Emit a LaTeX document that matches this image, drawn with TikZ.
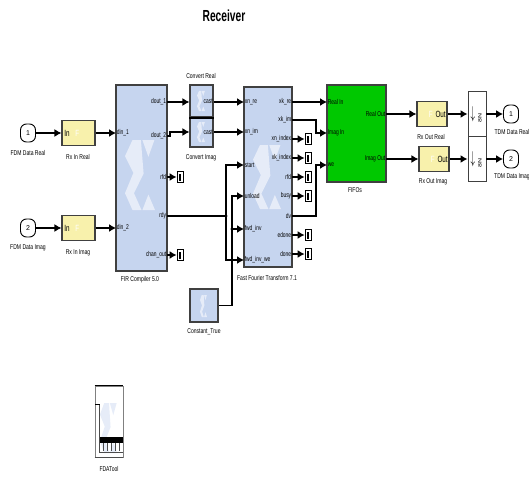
\documentclass[tikz,border=0pt]{standalone}
\usepackage{fontspec}
\setmainfont{Liberation Sans}
\usetikzlibrary{positioning}
\usetikzlibrary{arrows.meta}

\definecolor{blockblue}{HTML}{C6D5EF}
\definecolor{sigmablue}{HTML}{E6ECF8}
\definecolor{gatewayyellow}{HTML}{F8F1AC}
\definecolor{fifogreen}{HTML}{00C800}

\tikzset{
    block/.style={draw=black!75, line width=1.1pt, inner sep=0pt},
    xilinx/.style={block, fill=blockblue},
    gateway/.style={block, fill=gatewayyellow, minimum width=33pt, minimum height=25pt},
    fifobox/.style={block, fill=fifogreen},
    portnode/.style={draw=black, line width=0.9pt, rounded corners=6pt, minimum width=15pt, minimum height=18pt, inner sep=0pt, font=\fontsize{7}{8}\selectfont},
    downbox/.style={draw=black!75, line width=0.9pt, minimum width=18pt, minimum height=44.5pt, inner sep=0pt},
    termbox/.style={draw=black, line width=0.8pt, minimum width=6pt, minimum height=11pt, inner sep=0pt,
        path picture={\fill[black] (path picture bounding box.north west) ++(1.5pt,-2pt) rectangle ++(2pt,-7pt);}},
    caption/.style={font=\fontsize{7}{8}\selectfont, inner sep=0pt, xscale=0.72},
    pinlabel/.style={font=\fontsize{7}{8}\selectfont, inner sep=1pt, xscale=0.7},
    gatelabel/.style={pinlabel, font=\fontsize{9}{10}\selectfont},
    arrowsym/.style={font=\fontsize{9}{9}\selectfont, inner sep=0pt, yscale=1.9},
    sig/.style={draw=black, line width=1.3pt, -{Latex[length=7pt,width=8pt]}},
    wire/.style={draw=black, line width=1.3pt},
    xsig/.pic={
        \fill[sigmablue] (0.25,0) -- (0.53,0) -- (0.62,0.48) -- (0.3,0.76) -- (0.55,1) -- (0.25,1) -- (0,0.76) -- (0.28,0.47) -- (0,0.23) -- cycle;
        \fill[sigmablue] (0.58,0) -- (0.98,0) -- (0.78,0.24) -- cycle;
        \fill[sigmablue] (0.78,0.78) -- (1,1) -- (0.58,1) -- cycle;
    },
}

\begin{document}
\begin{tikzpicture}[x=1pt, y=-1pt]
    \useasboundingbox (0,0) rectangle (529,476);

    \node[font=\bfseries\fontsize{16}{18}\selectfont, xscale=0.64] (title) at (224,16) {Receiver};

    % input side
    \node[portnode] (fdmreal) at (28,133) {1};
    \node[portnode] (fdmimag) at (28,228) {2};
    \node[caption] (fdmrealcap) at (28,153) {FDM Data Real};
    \node[caption] (fdmimagcap) at (28,248) {FDM Data Imag};

    \node[gateway] (rxinreal) at (78.5,133) {};
    \node[gateway] (rxinimag) at (78.5,228) {};
    \node[caption] (rxinrealcap) at (78,157) {Rx In Real};
    \node[caption] (rxinimagcap) at (78,253) {Rx In Imag};
    \node[gatelabel, right=2pt of rxinreal.west] (rxinrealin) {In};
    \node[gatelabel, right=2pt of rxinimag.west] (rxinimagin) {In};
    \node[gatelabel, text=white, right=13pt of rxinreal.west] (rxinrealf) {F};
    \node[gatelabel, text=white, right=13pt of rxinimag.west] (rxinimagf) {F};

    % FIR block
    \node[xilinx, minimum width=51pt, minimum height=186pt] (fir) at (141.5,178) {};
    \pic[xscale=30, yscale=70] at (125,140) {xsig};
    \node[caption] (fircap) at (140,280) {FIR Compiler 5.0};
    \foreach \name/\txt/\y in {din1/din\_1/133, din2/din\_2/228} {
        \coordinate (\name) at (116,\y);
        \node[pinlabel, right=0pt of \name] (\name txt) {\txt};
    }
    \foreach \name/\txt/\y in {dout1/dout\_1/102, dout2/dout\_2/136, firrfd/rfd/177, firrdy/rdy/216, chanout/chan\_out/255} {
        \coordinate (\name) at (167,\y);
        \node[pinlabel, left=0pt of \name] (\name txt) {\txt};
    }

    % convert blocks
    \node[xilinx, minimum width=23pt, minimum height=32pt] (convreal) at (201.5,101) {};
    \node[xilinx, minimum width=23pt, minimum height=30pt] (convimag) at (201.5,132) {};
    \draw[black, line width=2pt] (convreal.south west) -- (convreal.south east);
    \pic[xscale=8, yscale=20] at (197,91) {xsig};
    \pic[xscale=8, yscale=20] at (197,122) {xsig};
    \node[pinlabel, left=0pt of convreal.east] (convrealtxt) {cast};
    \node[pinlabel, left=0pt of convimag.east] (convimagtxt) {cast};
    \node[caption] (convrealcap) at (201,76) {Convert Real};
    \node[caption] (convimagcap) at (201,158) {Convert Imag};

    % FFT block
    \node[xilinx, minimum width=48pt, minimum height=180pt] (fft) at (268,177) {};
    \pic[xscale=28, yscale=64] at (253,145) {xsig};
    \node[caption] (fftcap) at (267,278) {Fast Fourier Transform 7.1};
    \foreach \name/\txt/\y in {xnre/xn\_re/102, xnim/xn\_im/132, start/start/165, unload/unload/196, fwdinv/fwd\_inv/229, fwdinvwe/fwd\_inv\_we/260} {
        \coordinate (\name) at (244,\y);
        \node[pinlabel, right=0pt of \name] (\name txt) {\txt};
    }
    \foreach \name/\txt/\y in {xkre/xk\_re/102, xkim/xk\_im/120, xnindex/xn\_index/139, xkindex/xk\_index/158, fftrfd/rfd/177, busy/busy/196, dv/dv/216, edone/edone/235, done/done/254} {
        \coordinate (\name) at (292,\y);
        \node[pinlabel, left=0pt of \name] (\name txt) {\txt};
    }

    % constant
    \node[xilinx, minimum width=28pt, minimum height=33pt] (const) at (204,305.5) {};
    \pic[xscale=7, yscale=22] at (200,295) {xsig};
    \node[caption] (constcap) at (204,332) {Constant\_True};

    % FIFOs
    \node[fifobox, minimum width=59pt, minimum height=97pt] (fifos) at (356.5,133.5) {};
    \node[caption] (fifocap) at (355,190) {FIFOs};
    \foreach \name/\txt/\y in {realin/Real In/102, imagin/Imag In/133, wein/we/165} {
        \coordinate (\name) at (327,\y);
        \node[pinlabel, right=0pt of \name] (\name txt) {\txt};
    }
    \foreach \name/\txt/\y in {realout/Real Out/114, imagout/Imag Out/159} {
        \coordinate (\name) at (386,\y);
        \node[pinlabel, left=0pt of \name] (\name txt) {\txt};
    }

    % output side
    \node[gateway, minimum width=30pt] (rxoutreal) at (432,114) {};
    \node[gateway, minimum width=30pt] (rxoutimag) at (434,159) {};
    \node[gatelabel, left=1pt of rxoutreal.east] (rxoutrealout) {Out};
    \node[gatelabel, left=1pt of rxoutimag.east] (rxoutimagout) {Out};
    \node[gatelabel, text=white, left=14pt of rxoutreal.east] (rxoutrealf) {F};
    \node[gatelabel, text=white, left=14pt of rxoutimag.east] (rxoutimagf) {F};
    \node[caption] (rxoutrealcap) at (431,137) {Rx Out Real};
    \node[caption] (rxoutimagcap) at (433,182) {Rx Out Imag};

    \node[downbox] (downreal) at (477,114) {};
    \node[downbox] (downimag) at (477,159) {};
    \node[arrowsym] (downrealsym) at (473,114) {$\downarrow$};
    \node[arrowsym] (downimagsym) at (473,159) {$\downarrow$};
    \node[pinlabel, rotate=90] (downrealtxt) at (480,118) {8N};
    \node[pinlabel, rotate=90] (downimagtxt) at (480,163) {8N};

    \node[portnode] (tdmreal) at (511,114) {1};
    \node[portnode] (tdmimag) at (511,159) {2};
    \node[caption] (tdmrealcap) at (512,132) {TDM Data Real};
    \node[caption] (tdmimagcap) at (512,177) {TDM Data Imag};

    % FDATool
    \node[draw=black!50, line width=0.6pt, fill=white, inner sep=0pt, minimum width=28pt, minimum height=71pt] (fda) at (109,421.5) {};
    \draw[black, line width=1pt] (fda.north west) -- (fda.north east);
    \draw[black!70, line width=1pt] (fda.south west) -- (fda.south east);
    \pic[xscale=17, yscale=50] at (100,403) {xsig};
    \fill[black] (99.5,437) rectangle (123,443);
    \draw[black!70, line width=0.5pt] (99.5,404) -- (99.5,452) -- (123,452);
    \foreach \x in {103,107,111,115,119} {
        \draw[black!70, line width=0.5pt] (\x,443) -- (\x,451);
    }
    \draw[black, line width=0.8pt] (95,404) -- (99.5,404);
    \node[caption] (fdacap) at (109,469) {FDATool};

    % terminators
    \foreach \name/\src/\x/\y in {t1/firrfd/180/177, t2/chanout/180/255, t3/xnindex/308/139, t4/xkindex/308/158, t5/fftrfd/308/177, t6/busy/308/196, t7/edone/308/235, t8/done/308/254} {
        \node[termbox] (\name) at (\x,\y) {};
        \draw[sig] (\src) -- (\name);
    }

    % connectors
    \coordinate (rdyjoin) at (226,216);
    \coordinate (fwdjoin) at (232,229);
    \coordinate (constbend) at (232,305.5);
    \coordinate (xkimbend) at (316,120);
    \coordinate (dvbend) at (316,216);
    \coordinate (dout2bend) at (170,136);

    \draw[sig] (fdmreal) -- (rxinreal);
    \draw[sig] (fdmimag) -- (rxinimag);
    \draw[sig] (rxinreal) -- (din1);
    \draw[sig] (rxinimag) -- (din2);
    \draw[sig] (dout1) -- (dout1 -| convreal.west);
    \draw[sig] (dout2) -- (dout2bend) |- (xnim -| convimag.west);
    \draw[sig] (xkre) -- (realin);
    \draw[sig] (dout1 -| convreal.east) -- (xnre);
    \draw[sig] (xnim -| convimag.east) -- (xnim);
    \draw[sig] (xkim) -- (xkimbend) |- (imagin);
    \draw[sig] (dv) -- (dvbend) |- (wein);
    \draw[wire] (firrdy) -- (rdyjoin);
    \draw[sig] (rdyjoin) |- (start);
    \draw[sig] (rdyjoin) |- (fwdinvwe);
    \draw[sig] (const.east) -- (constbend) |- (unload);
    \draw[sig] (fwdjoin) -- (fwdinv);
    \fill[black] (rdyjoin) circle (1.6pt);
    \fill[black] (fwdjoin) circle (1.6pt);
    \draw[sig] (realout) -- (rxoutreal);
    \draw[sig] (imagout) -- (rxoutimag);
    \draw[sig] (rxoutreal) -- (downreal);
    \draw[sig] (rxoutimag) -- (downimag);
    \draw[sig] (downreal) -- (tdmreal);
    \draw[sig] (downimag) -- (tdmimag);
\end{tikzpicture}
\end{document}
